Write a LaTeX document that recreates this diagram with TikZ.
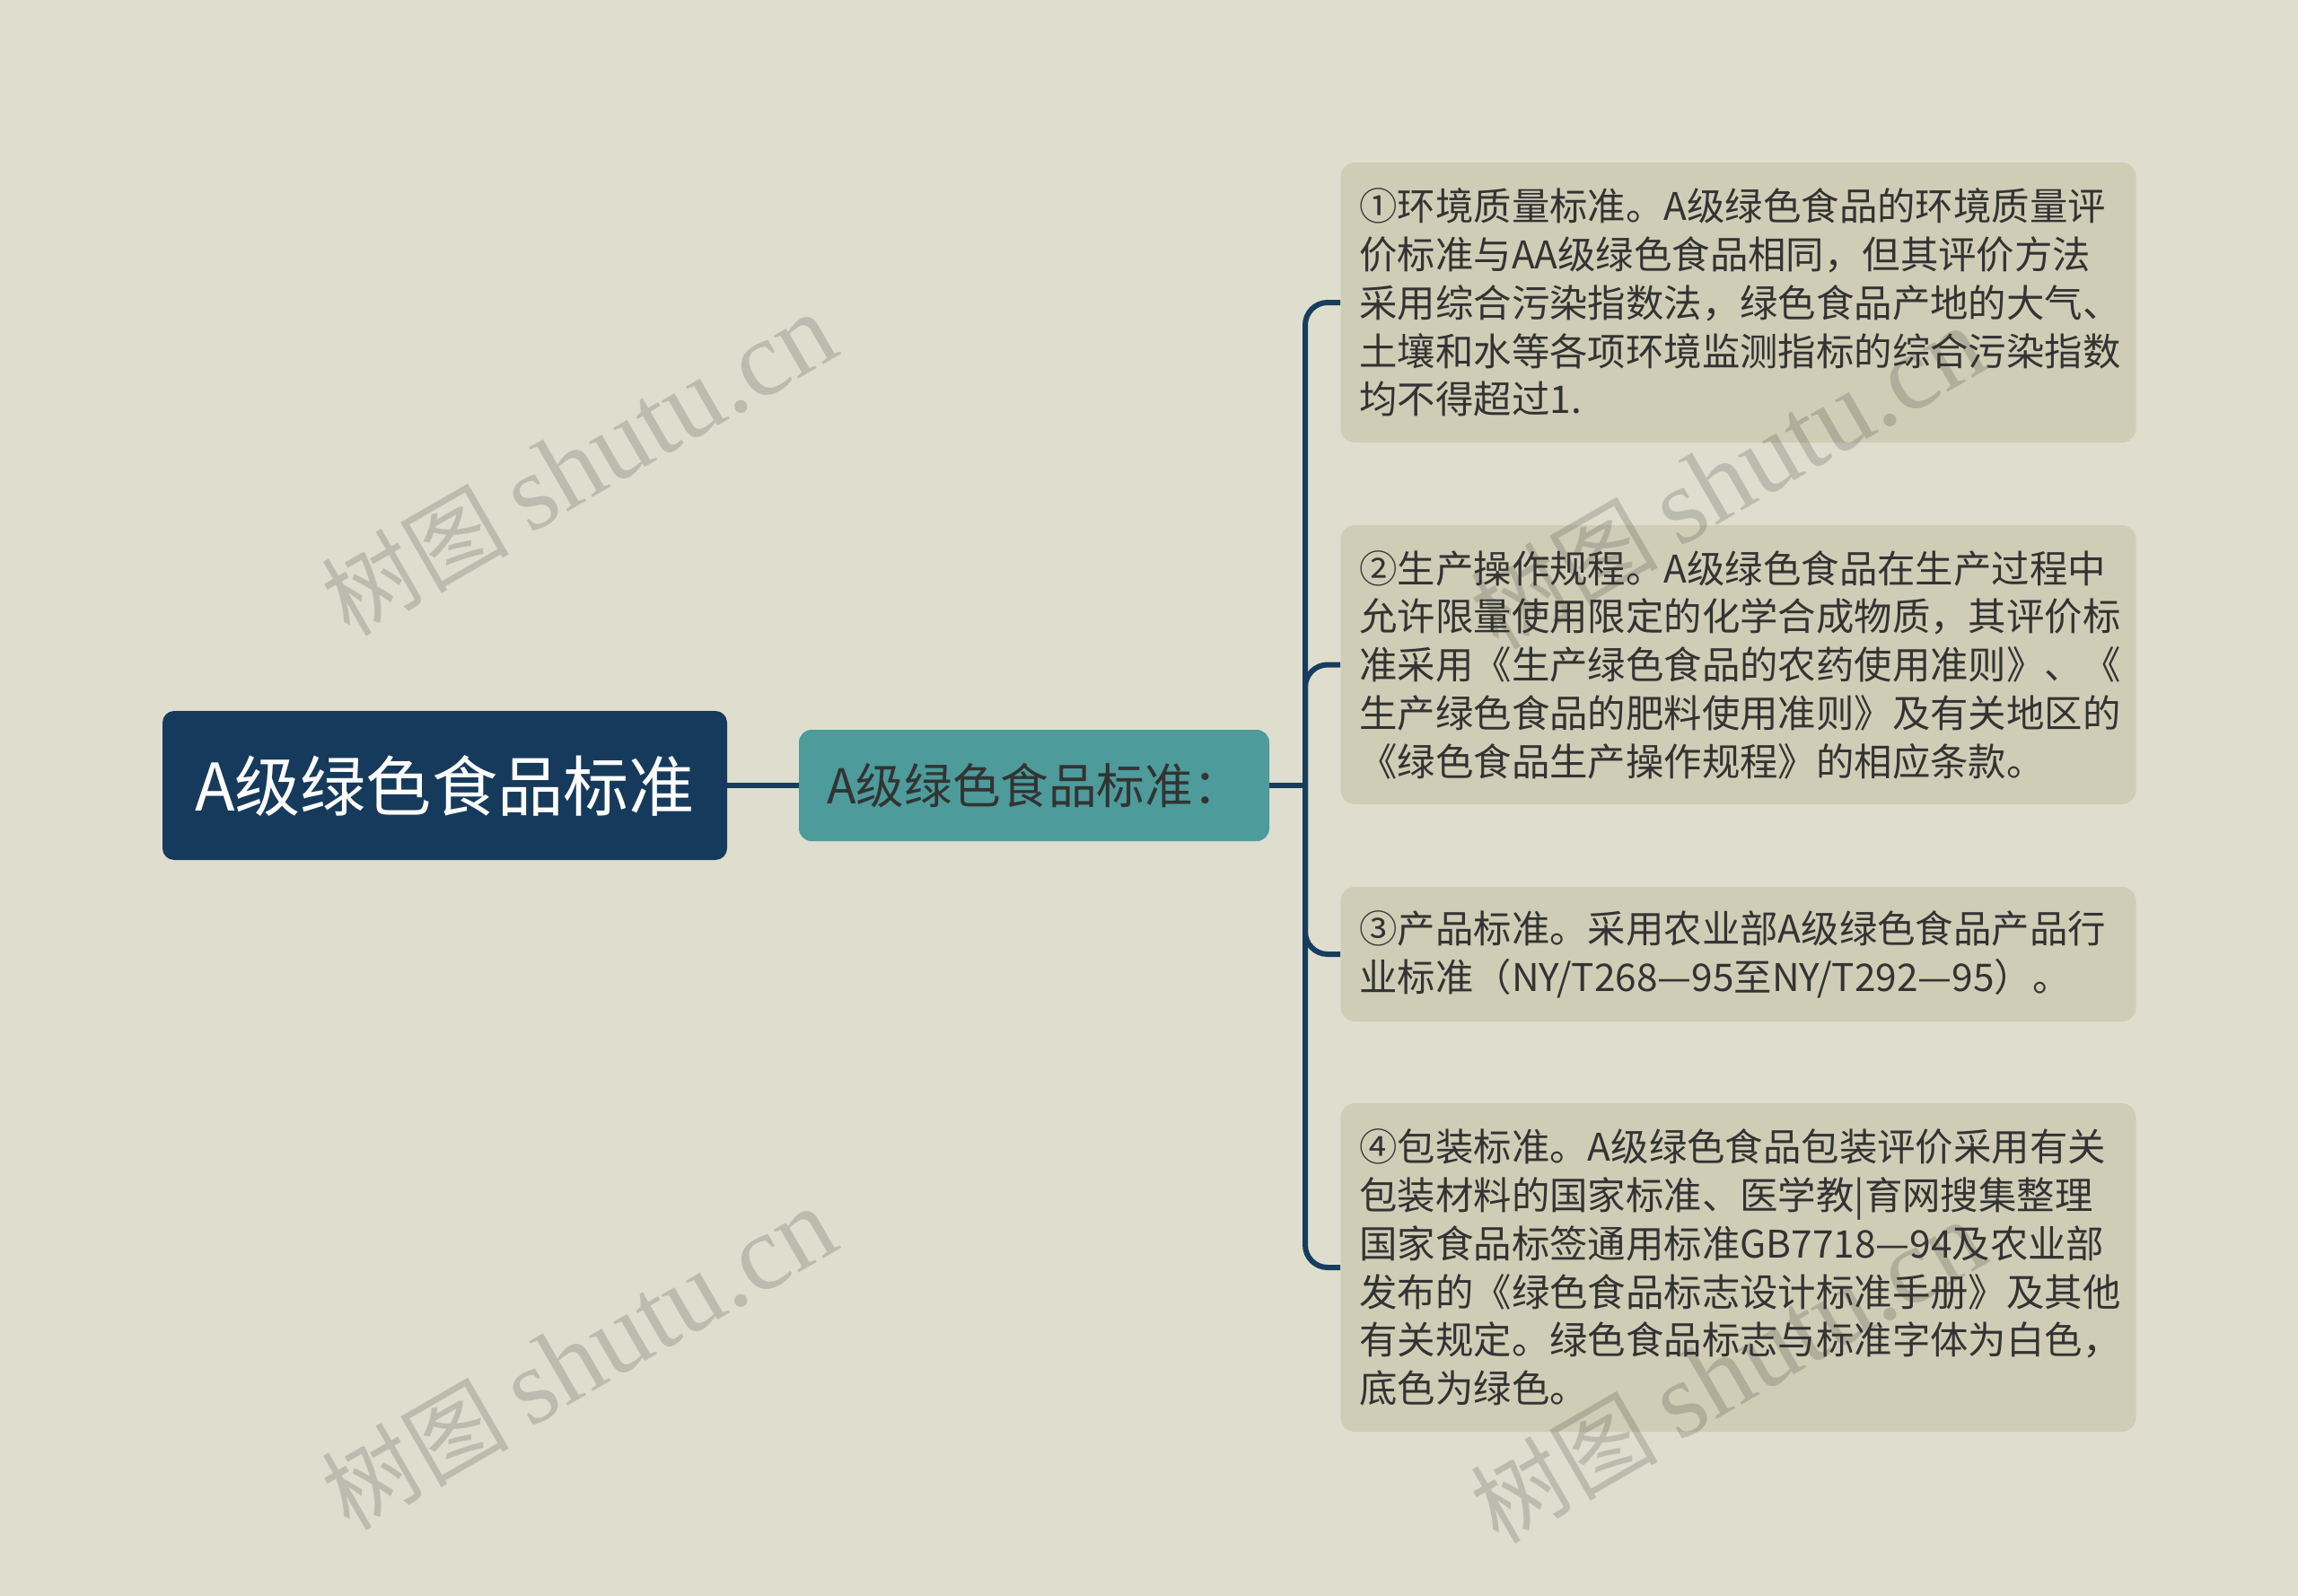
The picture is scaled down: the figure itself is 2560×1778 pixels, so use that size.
\documentclass[tikz,border=0pt]{standalone}
\usepackage{fontspec}
\setmainfont{Noto Sans CJK SC}
\newfontfamily\wmserif{Liberation Serif}
\definecolor{bgcol}{HTML}{DFDECE}
\definecolor{rootcol}{HTML}{163A5C}
\definecolor{childcol}{HTML}{4D9B9A}
\definecolor{leafcol}{HTML}{CFCDB6}
\definecolor{linecol}{HTML}{173D5E}
\definecolor{txtcol}{HTML}{333333}
\begin{document}
\begin{tikzpicture}[x=0.5pt,y=-0.5pt,
  rootbox/.style={rectangle, rounded corners=6.5pt, fill=rootcol, text=white,
    minimum width=314.5pt, minimum height=83pt, inner sep=0pt,
    font=\fontsize{36.6pt}{42pt}\selectfont},
  childbox/.style={rectangle, rounded corners=7pt, fill=childcol, text=txtcol,
    minimum width=262pt, minimum height=62pt, inner sep=0pt,
    font=\fontsize{26.8pt}{30pt}\selectfont},
  leafbox/.style={rectangle, rounded corners=8pt, fill=leafcol, text=txtcol,
    text width=422pt, align=left, inner xsep=10.5pt, inner ysep=0pt,
    font=\fontsize{21.2pt}{26.9pt}\selectfont},
  conn/.style={draw=linecol, line width=3pt},
  branch/.style={conn, rounded corners=12.5pt},
  wm/.style={text=txtcol, opacity=0.2, rotate=30, inner sep=0pt,
    font=\fontsize{52pt}{60pt}\selectfont}
]
\useasboundingbox (0,0) rectangle (2560,1778);
\fill[bgcol] (0,0) rectangle (2560,1778);

\node[rootbox] (root) at (495.5,875) {A级绿色食品标准};
\node[childbox] (child) at (1152,875) {A级绿色食品标准：};

\node[leafbox, minimum height=156pt] (l1) at (1936.5,337) {①环境质量标准。A级绿色食品的环境质量评\\价标准与AA级绿色食品相同，但其评价方法\\采用综合污染指数法，绿色食品产地的大气、\\土壤和水等各项环境监测指标的综合污染指数\\均不得超过1.};
\node[leafbox, minimum height=155.5pt] (l2) at (1936.5,740.5) {②生产操作规程。A级绿色食品在生产过程中\\允许限量使用限定的化学合成物质，其评价标\\准采用《生产绿色食品的农药使用准则》、《\\生产绿色食品的肥料使用准则》及有关地区的\\《绿色食品生产操作规程》的相应条款。};
\node[leafbox, minimum height=75pt] (l3) at (1936.5,1063) {③产品标准。采用农业部A级绿色食品产品行\\业标准（NY/T268—95至NY/T292—95）。};
\node[leafbox, minimum height=183pt] (l4) at (1936.5,1412) {④包装标准。A级绿色食品包装评价采用有关\\包装材料的国家标准、医学教|育网搜集整理\\国家食品标签通用标准GB7718—94及农业部\\发布的《绿色食品标志设计标准手册》及其他\\有关规定。绿色食品标志与标准字体为白色，\\底色为绿色。};

\coordinate (j) at (1454,875);
\draw[conn] (root.east) -- (child.west);
\draw[conn] (child.east) -- (j);
\draw[branch] (j) |- (l1.west);
\draw[branch] (j) |- (l2.west);
\draw[branch] (j) |- (l3.west);
\draw[branch] (j) |- (l4.west);

\node[wm] (wm1) at (645,518) {树图 {\wmserif\fontsize{60pt}{66pt}\selectfont shutu.cn}};
\node[wm] (wm2) at (645,1514) {树图 {\wmserif\fontsize{60pt}{66pt}\selectfont shutu.cn}};
\node[wm] (wm3) at (1925,533) {树图 {\wmserif\fontsize{60pt}{66pt}\selectfont shutu.cn}};
\node[wm] (wm4) at (1925,1529) {树图 {\wmserif\fontsize{60pt}{66pt}\selectfont shutu.cn}};
\end{tikzpicture}
\end{document}
